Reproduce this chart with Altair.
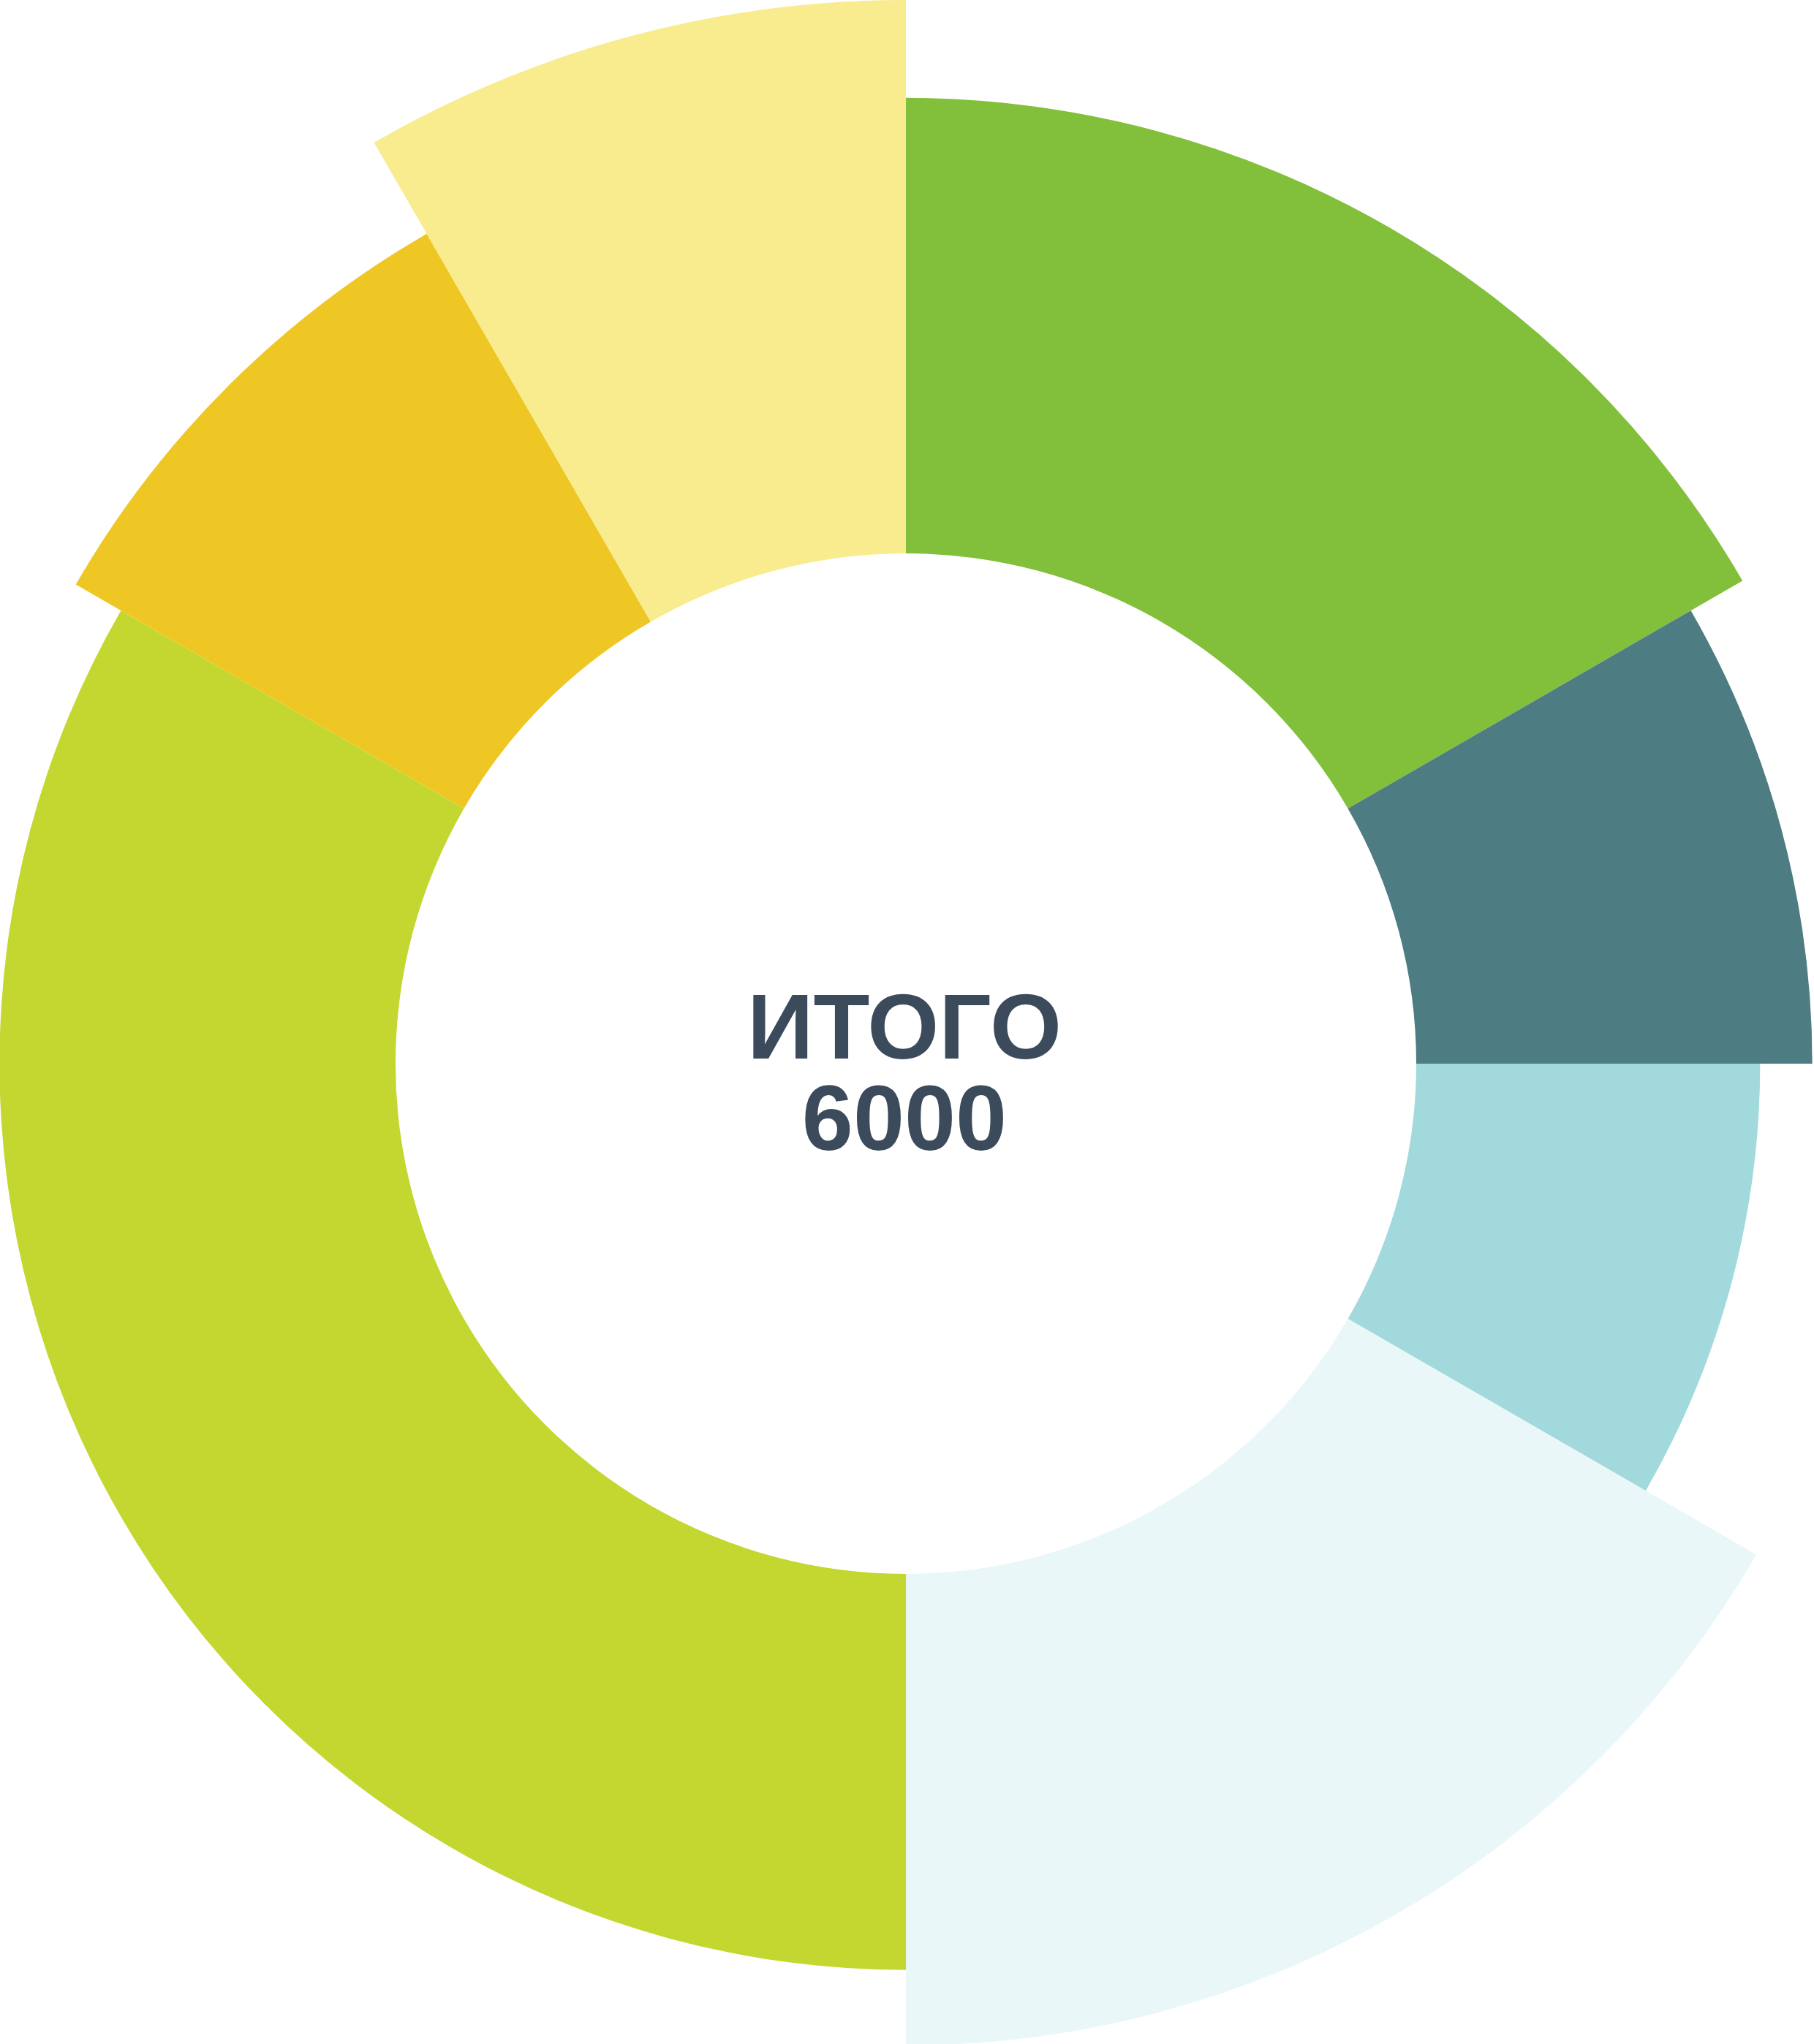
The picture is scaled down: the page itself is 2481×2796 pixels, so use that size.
import altair as alt
import pandas as pd

categories = ["Категория 1", "Категория 2", "Категория 3", "Категория 4",
              "Категория 5", "Категория 6", "Категория 7"]
values = [1000, 500, 500, 1000, 2000, 500, 500]
radius_rel = [90.8, 85.2, 80.3, 92.3, 85.2, 90.1, 100.0]
colors = ["#82BF3A", "#4D7C83", "#A2D9DC", "#E9F7F8", "#C4D730", "#EFC725", "#F8EC8E"]
total_label = "ИТОГО"
total_value = str(sum(values))

df = pd.DataFrame({
    "cat": categories,
    "value": values,
    "r": radius_rel,
    "order": list(range(len(categories))),
})

W, H = 2481, 2796
CX, CY = 1239, 1455

arcs = alt.Chart(df).transform_window(
    end="sum(value)", sort=[alt.SortField("order", order="ascending")],
    frame=[None, 0]
).transform_calculate(
    start="datum.end - datum.value"
).mark_arc(innerRadius=698, stroke=None, strokeWidth=0).encode(
    theta=alt.Theta("start:Q", scale=alt.Scale(domain=[0, sum(values)], range=[0, 6.283185307179586])),
    theta2="end:Q",
    radius=alt.Radius("r:Q", scale=alt.Scale(type="linear", domain=[0, 100], range=[0, 1455], zero=True)),
    color=alt.Color("cat:N", scale=alt.Scale(domain=categories, range=colors), legend=None),
    x=alt.value(CX),
    y=alt.value(CY),
)

label_df = pd.DataFrame({"t": [total_label]})
value_df = pd.DataFrame({"t": [total_value]})

t1 = alt.Chart(label_df).mark_text(
    font="Liberation Sans", fontWeight="bold", fontSize=126, color="#3C4B5C",
    align="center", baseline="alphabetic"
).encode(text="t:N", x=alt.value(1237), y=alt.value(1448))

t2 = alt.Chart(value_df).mark_text(
    font="Liberation Sans", fontWeight="bold", fontSize=126, color="#3C4B5C",
    align="center", baseline="alphabetic"
).encode(text="t:N", x=alt.value(1237), y=alt.value(1573))

chart = alt.layer(arcs, t1, t2).properties(
    width=W, height=H, padding=0, autosize=alt.AutoSizeParams(type="none"),
    background="white"
).configure_view(stroke=None)

chart.save("out.html", embed_options={"renderer": "svg", "actions": False})
